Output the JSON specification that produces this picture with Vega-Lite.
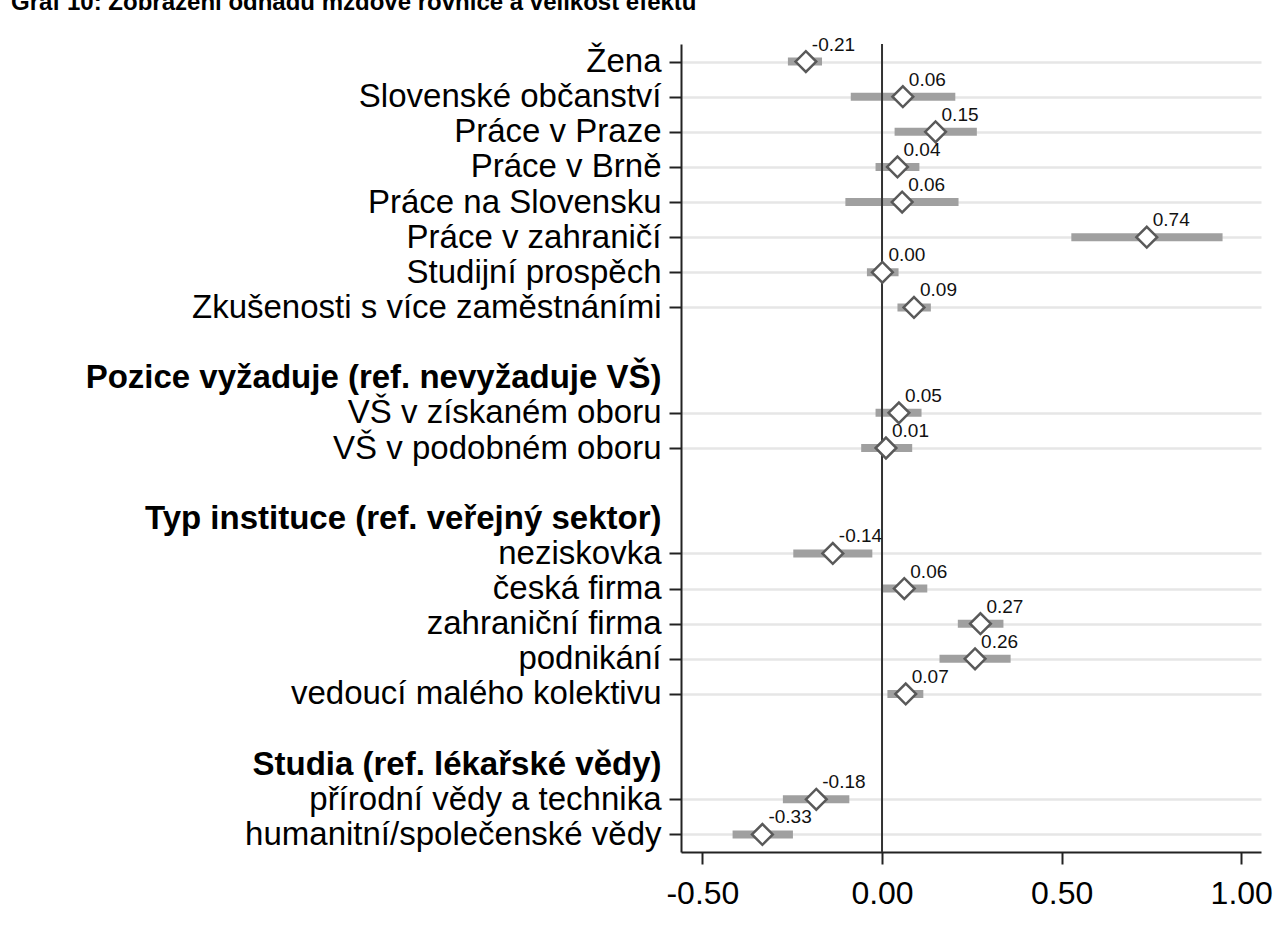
{
  "$schema": "https://vega.github.io/schema/vega-lite/v6.json",
  "width": 580,
  "height": 808,
  "autosize": {"type": "none"},
  "padding": {"left": 681, "top": 44, "right": 23, "bottom": 86},
  "background": "white",
  "config": {"view": {"stroke": null}},
  "title": {
    "text": "Graf 10: Zobrazení odhadu mzdové rovnice a velikost efektu",
    "anchor": "start",
    "frame": "group",
    "dx": -670,
    "dy": 18,
    "offset": 20,
    "baseline": "alphabetic",
    "font": "Liberation Sans",
    "fontSize": 24,
    "fontWeight": "bold",
    "color": "#000000"
  },
  "data": {
    "values": [
      {"v": "Žena", "est": -0.212, "lo": -0.262, "hi": -0.167},
      {"v": "Slovenské občanství", "est": 0.058, "lo": -0.087, "hi": 0.204},
      {"v": "Práce v Praze", "est": 0.149, "lo": 0.035, "hi": 0.264},
      {"v": "Práce v Brně", "est": 0.043, "lo": -0.018, "hi": 0.104},
      {"v": "Práce na Slovensku", "est": 0.056, "lo": -0.102, "hi": 0.213},
      {"v": "Práce v zahraničí", "est": 0.737, "lo": 0.527, "hi": 0.948},
      {"v": "Studijní prospěch", "est": 0.001, "lo": -0.042, "hi": 0.046},
      {"v": "Zkušenosti s více zaměstnáními", "est": 0.089, "lo": 0.043, "hi": 0.136},
      {"v": "VŠ v získaném oboru", "est": 0.047, "lo": -0.018, "hi": 0.110},
      {"v": "VŠ v podobném oboru", "est": 0.011, "lo": -0.058, "hi": 0.084},
      {"v": "neziskovka", "est": -0.137, "lo": -0.247, "hi": -0.027},
      {"v": "česká firma", "est": 0.062, "lo": 0.001, "hi": 0.126},
      {"v": "zahraniční firma", "est": 0.274, "lo": 0.211, "hi": 0.338},
      {"v": "podnikání", "est": 0.259, "lo": 0.160, "hi": 0.358},
      {"v": "vedoucí malého kolektivu", "est": 0.066, "lo": 0.015, "hi": 0.115},
      {"v": "přírodní vědy a technika", "est": -0.183, "lo": -0.276, "hi": -0.091},
      {"v": "humanitní/společenské vědy", "est": -0.333, "lo": -0.416, "hi": -0.248}
    ]
  },
  "transform": [
    {"calculate": "replace(format(datum.est, '.2f'), '\u2212', '-')", "as": "lab"}
  ],
  "layer": [
    {
      "mark": {"type": "rule", "color": "#a0a0a0", "strokeWidth": 8, "strokeCap": "butt"},
      "encoding": {
        "x": {
          "field": "lo",
          "type": "quantitative",
          "scale": {"domain": [-0.5596, 1.055], "nice": false, "zero": false},
          "axis": {
            "values": [-0.5, 0, 0.5, 1],
            "format": ".2f",
            "labelExpr": "replace(datum.label, '\u2212', '-')",
            "labelFont": "Liberation Sans",
            "labelFontSize": 32,
            "labelColor": "#000000",
            "labelPadding": 14,
            "tickSize": 12,
            "tickWidth": 2,
            "tickColor": "#222222",
            "domainColor": "#222222",
            "domainWidth": 2,
            "grid": false,
            "title": null
          }
        },
        "x2": {"field": "hi"},
        "y": {
          "field": "v",
          "type": "nominal",
          "scale": {
            "type": "point",
            "padding": 0.5,
            "domain": [
              "Žena", "Slovenské občanství", "Práce v Praze", "Práce v Brně", "Práce na Slovensku", "Práce v zahraničí", "Studijní prospěch", "Zkušenosti s více zaměstnáními",
              " ",
              "Pozice vyžaduje (ref. nevyžaduje VŠ)", "VŠ v získaném oboru", "VŠ v podobném oboru",
              "  ",
              "Typ instituce (ref. veřejný sektor)", "neziskovka", "česká firma", "zahraniční firma", "podnikání", "vedoucí malého kolektivu",
              "   ",
              "Studia (ref. lékařské vědy)", "přírodní vědy a technika", "humanitní/společenské vědy"
            ]
          },
          "axis": {
            "title": null,
            "labelFont": "Liberation Sans",
            "labelFontSize": 33,
            "labelColor": "#000000",
            "labelPadding": 8,
            "labelLimit": 1000,
            "labelOverlap": false,
            "labelFontWeight": {"condition": {"test": "indexof(['Pozice vyžaduje (ref. nevyžaduje VŠ)', 'Typ instituce (ref. veřejný sektor)', 'Studia (ref. lékařské vědy)'], datum.value) >= 0", "value": "bold"}, "value": "normal"},
            "tickSize": 12,
            "tickWidth": 2,
            "tickColor": "#222222",
            "tickOpacity": {"condition": {"test": "indexof(['Pozice vyžaduje (ref. nevyžaduje VŠ)', 'Typ instituce (ref. veřejný sektor)', 'Studia (ref. lékařské vědy)'], datum.value) >= 0 || trim(datum.value) == ''", "value": 0}, "value": 1},
            "domainColor": "#222222",
            "domainWidth": 2,
            "grid": true,
            "gridColor": "#e6e6e6",
            "gridWidth": 2.5,
            "gridOpacity": {"condition": {"test": "indexof(['Pozice vyžaduje (ref. nevyžaduje VŠ)', 'Typ instituce (ref. veřejný sektor)', 'Studia (ref. lékařské vědy)'], datum.value) >= 0 || trim(datum.value) == ''", "value": 0}, "value": 1}
          }
        }
      }
    },
    {
      "data": {"values": [{"zero": 0}]},
      "mark": {"type": "rule", "color": "#333333", "strokeWidth": 2},
      "encoding": {"x": {"field": "zero", "type": "quantitative"}}
    },
    {
      "mark": {"type": "point", "shape": "diamond", "filled": true, "fill": "white", "stroke": "#595959", "strokeWidth": 2.5, "size": 430, "opacity": 1},
      "encoding": {
        "x": {"field": "est", "type": "quantitative"},
        "y": {"field": "v", "type": "nominal"}
      }
    },
    {
      "mark": {"type": "text", "align": "left", "baseline": "alphabetic", "dx": 6, "dy": -11, "font": "Liberation Sans", "fontSize": 19, "color": "#111111"},
      "encoding": {
        "x": {"field": "est", "type": "quantitative"},
        "y": {"field": "v", "type": "nominal"},
        "text": {"field": "lab"}
      }
    }
  ]
}
